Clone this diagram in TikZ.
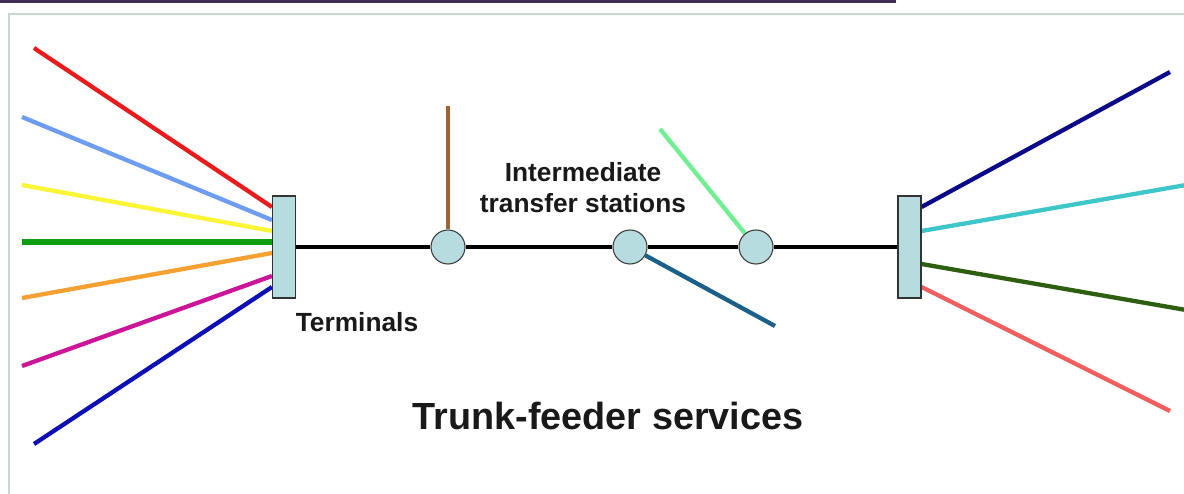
\documentclass[tikz,border=0pt]{standalone}
\usepackage{fontspec}
\setmainfont{Liberation Sans}
\usetikzlibrary{backgrounds}
\begin{document}
\begin{tikzpicture}[x=1pt,y=-1pt,
  feeder/.style={line width=4.3pt},
  trunk/.style={line width=4pt,black},
  terminal/.style={draw=black!80,line width=1.1pt,fill=stationfill,minimum width=23pt,minimum height=102pt,inner sep=0pt},
  station/.style={circle,draw=black!75,line width=1.1pt,fill=stationfill,minimum size=34pt,inner sep=0pt},
  lbl/.style={font=\bfseries\fontsize{26.3}{31}\selectfont,align=center,text=black!90,inner sep=0pt},
  ttl/.style={font=\bfseries\fontsize{37.8}{40}\selectfont,text=black!90,inner sep=0pt}]
\definecolor{stationfill}{HTML}{B7DCE0}
\definecolor{c1}{HTML}{E81C1C}
\definecolor{c2}{HTML}{6E9CF0}
\definecolor{c3}{HTML}{FAF535}
\definecolor{c4}{HTML}{0E9E12}
\definecolor{c5}{HTML}{F5A032}
\definecolor{c6}{HTML}{CC1699}
\definecolor{c7}{HTML}{0E10B4}
\definecolor{d1}{HTML}{0A0A88}
\definecolor{d2}{HTML}{3EC6C8}
\definecolor{d3}{HTML}{2E5E10}
\definecolor{d4}{HTML}{F05E5E}
\definecolor{brownline}{HTML}{A0642E}
\definecolor{lgreen}{HTML}{72EE92}
\definecolor{tealline}{HTML}{1A6088}
\definecolor{topbar}{HTML}{3F2F55}
\definecolor{frameline}{HTML}{C9D9C9}
\useasboundingbox (0,0) rectangle (1184,494);
% nodes
\node[terminal] (tL) at (284,247) {};
\node[terminal] (tR) at (909.5,247) {};
\node[station] (s1) at (448,247) {};
\node[station] (s2) at (630,247) {};
\node[station] (s3) at (756,247) {};
% free ends
\coordinate (l1) at (34,48);
\coordinate (l2) at (22,117);
\coordinate (l3) at (22,185);
\coordinate (l4) at (22,242);
\coordinate (l5) at (22,298);
\coordinate (l6) at (22,366);
\coordinate (l7) at (34,444);
\coordinate (r1) at (1170,72);
\coordinate (r2) at (1186,185);
\coordinate (r3) at (1186,310);
\coordinate (r4) at (1170,411);
\coordinate (bt) at (448,106);
\coordinate (gt) at (660,129);
\coordinate (tb) at (775,326);
\begin{scope}[on background layer]
\fill[white] (0,0) rectangle (1184,494);
\fill[topbar] (0,0) rectangle (896,3);
\draw[frameline,line width=1.6pt] (9,500) -- (9,14) -- (1190,14);
% left feeders
\draw[feeder,c1] (l1) -- (tL.west |- 0,207);
\draw[feeder,c2] (l2) -- (tL.west |- 0,220);
\draw[feeder,c3] (l3) -- (tL.west |- 0,231);
\draw[feeder,c4,line width=6pt] (l4) -- (tL.west |- 0,242);
\draw[feeder,c5] (l5) -- (tL.west |- 0,253);
\draw[feeder,c6] (l6) -- (tL.west |- 0,276);
\draw[feeder,c7] (l7) -- (tL.west |- 0,287);
% right feeders
\draw[feeder,d1] (tR.east |- 0,207) -- (r1);
\draw[feeder,d2] (tR.east |- 0,231) -- (r2);
\draw[feeder,d3] (tR.east |- 0,264) -- (r3);
\draw[feeder,d4] (tR.east |- 0,287) -- (r4);
% trunk and station feeders
\draw[trunk] (tL.east) -- (s1) -- (s2) -- (s3) -- (tR.west);
\draw[feeder,brownline] (bt) -- (s1);
\draw[feeder,lgreen] (gt) -- (s3);
\draw[feeder,tealline] (s2) -- (tb);
\end{scope}
% labels
\node[lbl,anchor=base] (term) at (357,332) {Terminals};
\node[lbl,anchor=base] (inter) at (583,213) {Intermediate\\transfer stations};
\node[ttl,anchor=base] (title) at (608,429) {Trunk-feeder services};
\end{tikzpicture}
\end{document}
